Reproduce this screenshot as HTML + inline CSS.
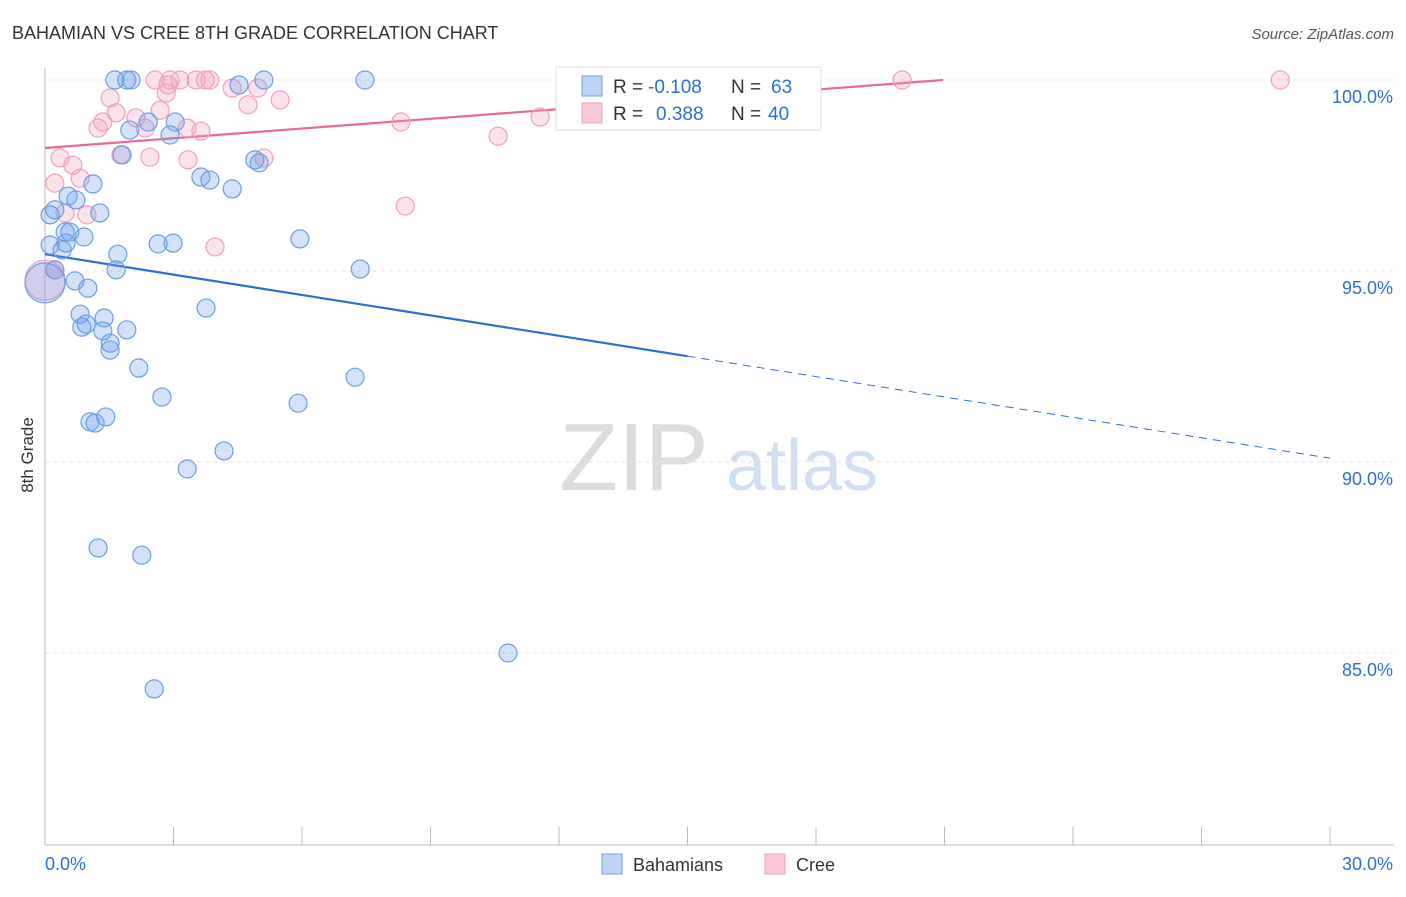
<!DOCTYPE html>
<html><head><meta charset="utf-8"><style>
body{margin:0;background:#fff;font-family:"Liberation Sans",sans-serif;}
svg text{font-family:"Liberation Sans",sans-serif;}
</style></head><body>
<svg id="chart" width="1406" height="892" xmlns="http://www.w3.org/2000/svg">
<text x="12" y="39" font-size="18" fill="#333">BAHAMIAN VS CREE 8TH GRADE CORRELATION CHART</text>
<text x="1394" y="39" font-size="15" fill="#555" text-anchor="end" font-style="italic">Source: ZipAtlas.com</text>
<text transform="translate(33,455) rotate(-90)" font-size="17" fill="#333" text-anchor="middle">8th Grade</text>
<g>
<text x="634" y="490" font-size="96" fill="#dcdcdc" font-family="Liberation Serif" text-anchor="middle">ZIP</text>
<text x="802" y="490" font-size="72" fill="#d0dff2" text-anchor="middle">atlas</text>
</g>
<g id="grid"></g>
<g id="axes"></g>
<g id="lines"></g>
<g id="points"></g>
<g>
<rect x="556" y="67" width="265" height="63" fill="#fff" stroke="#ddd"/>
<rect x="582" y="76" width="20" height="20" fill="#bcd4f5" stroke="#6a9fe0"/>
<rect x="582" y="103" width="20" height="20" fill="#fbc9d8" stroke="#f0a0bc"/>
<text x="613" y="93" font-size="19" fill="#333">R =</text>
<text x="648" y="93" font-size="19" fill="#2b6fd6">-0.108</text>
<text x="731" y="93" font-size="19" fill="#333">N =</text>
<text x="771" y="93" font-size="19" fill="#2b6fd6">63</text>
<text x="613" y="120" font-size="19" fill="#333">R =</text>
<text x="656" y="120" font-size="19" fill="#2b6fd6">0.388</text>
<text x="731" y="120" font-size="19" fill="#333">N =</text>
<text x="768" y="120" font-size="19" fill="#2b6fd6">40</text>
</g>
<g>
<rect x="602" y="854" width="20" height="20" fill="#bcd4f5" stroke="#6a9fe0"/>
<text x="633" y="871" font-size="18" fill="#333">Bahamians</text>
<rect x="765" y="854" width="20" height="20" fill="#fbc9d8" stroke="#f0a0bc"/>
<text x="796" y="871" font-size="18" fill="#333">Cree</text>
</g>
</svg>
<script>
const yTicks=[100,95,90,85];
const yTickLabels=["100.0%","95.0%","90.0%","85.0%"];
const xTicks=[0,3,6,9,12,15,18,21,24,27,30];
const xEndLabels=["0.0%","30.0%"];
const blueX=[1.63,1.91,2.01,7.47,5.11,4.53,2.41,3.04,1.98,2.92,1.80,4.90,5.00,3.64,3.85,4.37,1.12,0.54,0.72,0.23,0.12,1.28,0.47,0.58,0.91,0.49,0.12,0.40,2.64,2.99,5.95,1.70,1.66,7.36,0.23,0.70,1.00,0.0,3.76,0.82,1.38,0.96,0.86,1.91,1.35,1.52,1.52,2.19,7.24,2.73,5.91,1.05,1.17,1.42,4.18,3.32,1.24,2.26,10.81,2.55];
const blueY=[100,100,100,100,100,99.87,98.90,98.90,98.69,98.56,98.04,97.91,97.83,97.46,97.38,97.15,97.28,96.96,96.86,96.60,96.47,96.52,96.02,96.02,95.89,95.73,95.68,95.55,95.71,95.73,95.84,95.44,95.03,95.05,95.03,94.74,94.55,94.69,94.03,93.87,93.77,93.61,93.53,93.46,93.43,93.11,92.93,92.46,92.22,91.70,91.54,91.05,91.02,91.18,90.29,89.82,87.75,87.56,85.00,84.06];
const pinkX=[2.57,2.92,3.15,3.53,3.85,3.74,2.87,13.71,14.29,20.01,28.84,4.37,4.97,2.83,1.52,5.49,4.74,2.69,1.66,2.12,1.35,1.24,3.32,3.64,2.34,8.31,11.56,10.58,1.77,2.45,5.11,3.34,0.35,0.65,0.82,0.23,8.41,0.47,0.98,3.97,0.23,0];
const pinkY=[100,100,100,100,100,100,99.87,100,100,100,100,99.79,99.79,99.66,99.53,99.48,99.35,99.21,99.14,99.01,98.90,98.74,98.74,98.66,98.74,98.90,99.03,98.53,98.04,97.98,97.96,97.91,97.96,97.77,97.43,97.30,96.70,96.52,96.47,95.63,95.03,94.76];
const blueTrend=[95.44,-0.178];
const pinkTrend=[98.22,0.0849];
const NS="http://www.w3.org/2000/svg";
const X=v=>45+v/30*1285, Y=v=>80+(100-v)/5*191;
function mk(parent,tag,attrs){const e=document.createElementNS(NS,tag);for(const k in attrs)e.setAttribute(k,attrs[k]);document.getElementById(parent).appendChild(e);return e;}
yTicks.forEach((t,i)=>{
 const l=mk('grid','line',{x1:45,x2:1394,y1:Y(t),y2:Y(t),stroke:'#e3e3e3','stroke-dasharray':'4,4'});
 
 
 const tx=mk('grid','text',{x:1393,y:Y(t)+23,'font-size':18,fill:'#2b6fd6','text-anchor':'end'});tx.textContent=yTickLabels[i];
 
 
});
let a=mk('axes','line',{x1:45,x2:45,y1:68,y2:845,stroke:'#bbb'});


a=mk('axes','line',{x1:45,x2:1394,y1:845,y2:845,stroke:'#bbb'});


xTicks.forEach(t=>{const l=mk('axes','line',{x1:X(t),x2:X(t),y1:827,y2:845,stroke:'#bbb'});
 
 });
let t0=mk('axes','text',{x:45,y:870,'font-size':18,fill:'#2b6fd6'});t0.textContent=xEndLabels[0];


t0=mk('axes','text',{x:1393,y:870,'font-size':18,fill:'#2b6fd6','text-anchor':'end'});t0.textContent=xEndLabels[1];


function dots(xs,ys,fill,stroke,name){xs.forEach((x,i)=>{const r=(x===0)?20:9;
 const c=mk('points','circle',{cx:X(x),cy:Y(ys[i]),r:r,fill:fill,stroke:stroke,'stroke-width':1.2});
 
 });}
dots(pinkX,pinkY,'rgba(244,160,190,0.3)','#f0a0bc','cree-point');
dots(blueX,blueY,'rgba(110,160,235,0.3)','#6a9fe0','bahamian-point');
let bl=mk('lines','line',{x1:X(0),y1:Y(blueTrend[0]),x2:X(15),y2:Y(blueTrend[0]+blueTrend[1]*15),stroke:'#2b6fd6','stroke-width':2.2});


bl=mk('lines','line',{x1:X(15),y1:Y(blueTrend[0]+blueTrend[1]*15),x2:X(30),y2:Y(blueTrend[0]+blueTrend[1]*30),stroke:'#2b6fd6','stroke-width':1,'stroke-dasharray':'8,6'});


const pEnd=(100-pinkTrend[0])/pinkTrend[1];
bl=mk('lines','line',{x1:X(0),y1:Y(pinkTrend[0]),x2:X(pEnd),y2:Y(100),stroke:'#e8689a','stroke-width':2.2});


</script>
</body></html>
